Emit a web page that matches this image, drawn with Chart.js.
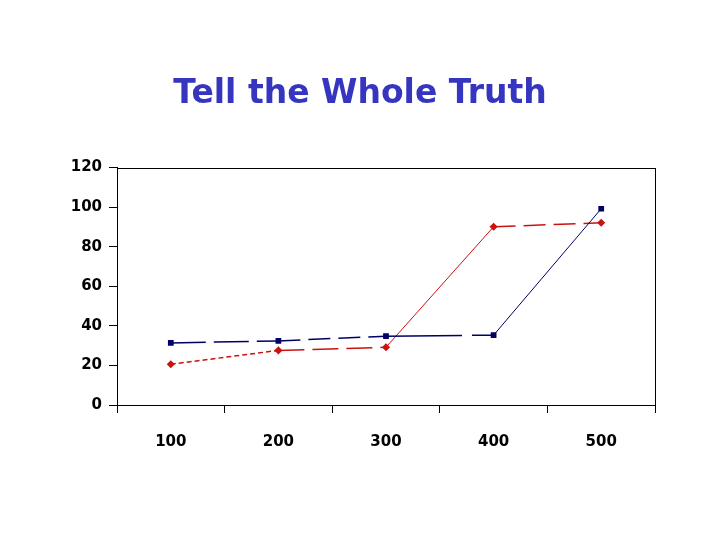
<!DOCTYPE html>
<html>
<head>
<meta charset="utf-8">
<script src="https://cdn.jsdelivr.net/npm/chart.js@4/dist/chart.umd.min.js"></script>
<style>
html,body{margin:0;padding:0;background:#fff;}
#wrap{width:720px;height:540px;}
</style>
</head>
<body>
<div id="wrap"><canvas id="c" width="720" height="540"></canvas></div>
<script>
const categories = ['100', '200', '300', '400', '500'];
const seriesBlue = [31.4, 32.4, 34.8, 35.3, 99.2];
const seriesRed = [20.6, 27.6, 29.2, 90.1, 92.1];
const yTicks = [0, 20, 40, 60, 80, 100, 120];
const titleText = 'Tell the Whole Truth';

const blueDash = [[35, 8], [22, 8], [76, 10], []];
const redDash = [[5, 3], [26, 8], [], [22, 8]];
const blueWidth = [1.5, 1.5, 1.5, 1];
const redWidth = [1.5, 1.5, 1, 1.5];

const borderPlugin = {
  id: 'plotBorder',
  afterDraw(chart) {
    const a = chart.chartArea, ctx = chart.ctx;
    ctx.save();
    ctx.strokeStyle = '#000';
    ctx.lineWidth = 1;
    ctx.strokeRect(Math.round(a.left) + 0.5, Math.round(a.top) + 0.5, Math.round(a.right - a.left), Math.round(a.bottom - a.top));
    ctx.restore();
  }
};

new Chart(document.getElementById('c'), {
  type: 'line',
  data: {
    labels: categories,
    datasets: [
      {
        label: 'Blue',
        data: seriesBlue,
        borderColor: '#000066',
        backgroundColor: '#000066',
        pointStyle: 'rect',
        pointRadius: 3,
        pointHoverRadius: 3,
        borderWidth: 1.5,
        fill: false,
        tension: 0,
        segment: {
          borderDash: c => blueDash[c.p0DataIndex],
          borderWidth: c => blueWidth[c.p0DataIndex]
        }
      },
      {
        label: 'Red',
        data: seriesRed,
        borderColor: '#cc1111',
        backgroundColor: '#cc1111',
        pointStyle: 'rectRot',
        pointRadius: 3,
        pointHoverRadius: 3,
        borderWidth: 1.5,
        fill: false,
        tension: 0,
        segment: {
          borderDash: c => redDash[c.p0DataIndex],
          borderWidth: c => redWidth[c.p0DataIndex]
        }
      }
    ]
  },
  options: {
    responsive: false,
    animation: false,
    devicePixelRatio: 1,
    layout: { padding: { left: 65, right: 65, top: 0, bottom: 0 } },
    plugins: {
      legend: { display: false },
      tooltip: { enabled: false },
      title: {
        display: true,
        text: titleText,
        color: '#3535c0',
        font: { family: '"Comic Sans MS", "DejaVu Sans", sans-serif', size: 33, weight: 'bold' },
        padding: { top: 75, bottom: 53 }
      }
    },
    scales: {
      x: {
        offset: true,
        grid: { display: true, offset: true, drawOnChartArea: false, tickLength: 8, color: '#000', lineWidth: 1 },
        border: { display: true, color: '#000', width: 1 },
        ticks: { color: '#000', padding: 20, font: { family: '"Comic Sans MS", "DejaVu Sans", sans-serif', size: 15, weight: 'bold' }, maxRotation: 0 },
        afterFit(s) { s.height = 135; }
      },
      y: {
        min: 0,
        max: 120,
        afterBuildTicks(s) { s.ticks = yTicks.map(v => ({ value: v })); },
        grid: { display: true, drawOnChartArea: false, tickLength: 8, color: '#000', lineWidth: 1 },
        border: { display: true, color: '#000', width: 1 },
        ticks: { color: '#000', padding: 7, font: { family: '"Comic Sans MS", "DejaVu Sans", sans-serif', size: 15, weight: 'bold' } },
        afterFit(s) { s.width = 52; }
      }
    }
  },
  plugins: [borderPlugin]
});
</script>
</body>
</html>
